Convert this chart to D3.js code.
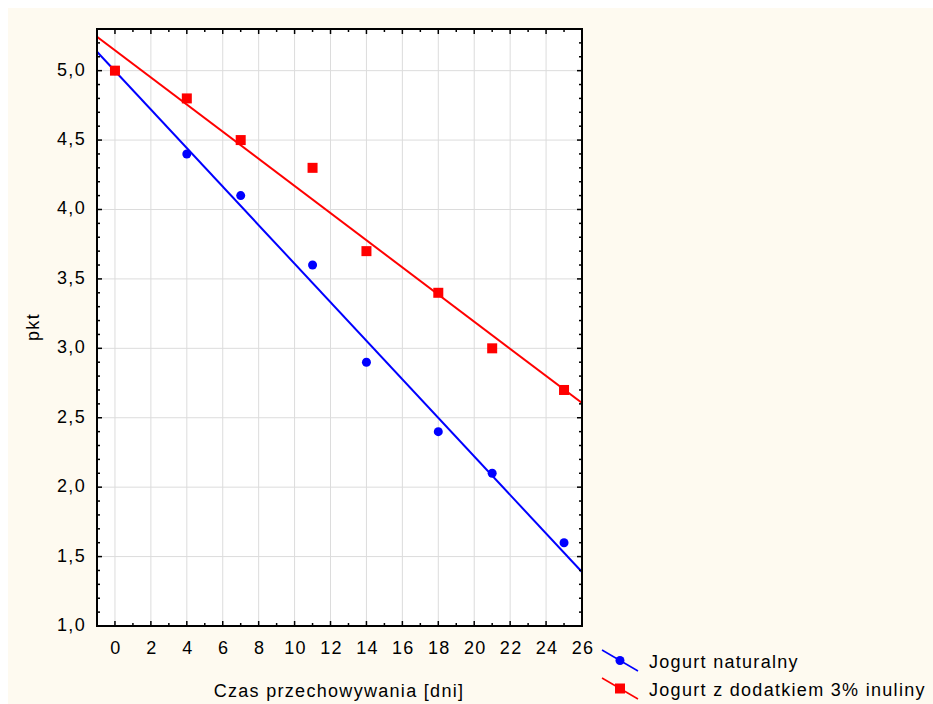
<!DOCTYPE html>
<meta charset="utf-8">
<style>
body{ margin:0; background:#fff; }
svg{ display:block; font-family:"Liberation Sans", Arial, sans-serif; }
text{ letter-spacing:1.3px; }
</style>
<svg width="933" height="704"></svg>
<script src="https://d3js.org/d3.v7.min.js"></script>
<script>

var days = [0, 4, 7, 11, 14, 18, 21, 25];
var natural = [5.0, 4.4, 4.1, 3.6, 2.9, 2.4, 2.1, 1.6];
var inulin = [5.0, 4.8, 4.5, 4.3, 3.7, 3.4, 3.0, 2.7];
var seriesNames = ["Jogurt naturalny", "Jogurt z dodatkiem 3% inuliny"];
var xTicks = d3.range(0, 27, 2);
var yTicks = [1.0, 1.5, 2.0, 2.5, 3.0, 3.5, 4.0, 4.5, 5.0];

var svg = d3.select("svg");

svg.append("rect")
  .attr("x", 8).attr("y", 8)
  .attr("width", 925).attr("height", 696)
  .attr("fill", "#fefaf0");

var pLeft = 97, pRight = 582, pTop = 29, pBottom = 626;

var x = d3.scaleLinear().domain([-1, 26]).range([pLeft, pRight]);
var y = d3.scaleLinear().domain([1, 5.3]).range([pBottom, pTop]);

svg.append("rect")
  .attr("x", pLeft).attr("y", pTop)
  .attr("width", pRight - pLeft).attr("height", pBottom - pTop)
  .attr("fill", "#fff");

// grid
svg.append("g").selectAll("line")
  .data(xTicks.filter(function(d) { return d < 26; }))
  .enter().append("line")
  .attr("x1", function(d) { return x(d); }).attr("x2", function(d) { return x(d); })
  .attr("y1", pTop).attr("y2", pBottom)
  .attr("stroke", "#dcdcdc").attr("stroke-width", 1);

svg.append("g").selectAll("line")
  .data(yTicks.filter(function(d) { return d > 1; }))
  .enter().append("line")
  .attr("x1", pLeft).attr("x2", pRight)
  .attr("y1", function(d) { return y(d); }).attr("y2", function(d) { return y(d); })
  .attr("stroke", "#dcdcdc").attr("stroke-width", 1);

// regression lines
function fit(xs, ys) {
  var mx = d3.mean(xs), my = d3.mean(ys), sxy = 0, sxx = 0;
  xs.forEach(function(v, i) {
    sxy += (v - mx) * (ys[i] - my);
    sxx += (v - mx) * (v - mx);
  });
  var b = sxy / sxx;
  return function(v) { return my + b * (v - mx); };
}

var series = [
  {name: seriesNames[0], values: natural, color: "#0000ff", shape: "circle"},
  {name: seriesNames[1], values: inulin, color: "#ff0000", shape: "square"}
];

svg.append("defs").append("clipPath").attr("id", "plot")
  .append("rect").attr("x", pLeft).attr("y", pTop)
  .attr("width", pRight - pLeft).attr("height", pBottom - pTop);

series.forEach(function(s) {
  var f = fit(days, s.values);
  svg.append("line")
    .attr("clip-path", "url(#plot)")
    .attr("x1", x(-1)).attr("y1", y(f(-1)))
    .attr("x2", x(26)).attr("y2", y(f(26)))
    .attr("stroke", s.color).attr("stroke-width", 2);
});

function drawMarker(g, s, cx, cy) {
  if (s.shape === "circle") {
    g.append("circle").attr("cx", cx).attr("cy", cy).attr("r", 4.5).attr("fill", s.color);
  } else {
    g.append("rect").attr("x", cx - 5).attr("y", cy - 5)
      .attr("width", 10).attr("height", 10).attr("fill", s.color);
  }
}

series.forEach(function(s) {
  var g = svg.append("g");
  s.values.forEach(function(v, i) { drawMarker(g, s, x(days[i]), y(v)); });
});

// frame
svg.append("rect")
  .attr("x", pLeft).attr("y", pTop)
  .attr("width", pRight - pLeft).attr("height", pBottom - pTop)
  .attr("fill", "none").attr("stroke", "#000").attr("stroke-width", 2);

// inward ticks on all four sides
var xt = d3.range(0, 27, 1);
var yt = d3.range(10, 54, 1).map(function(d) { return d / 10; });
var ticks = svg.append("g").attr("stroke", "#000").attr("stroke-width", 1.5);
xt.forEach(function(d) {
  var len = d % 2 === 0 ? 5 : 3;
  ticks.append("line").attr("x1", x(d)).attr("x2", x(d)).attr("y1", pBottom).attr("y2", pBottom - len);
  ticks.append("line").attr("x1", x(d)).attr("x2", x(d)).attr("y1", pTop).attr("y2", pTop + len);
});
yt.forEach(function(d) {
  var len = Math.round(d * 10) % 5 === 0 ? 5 : 3;
  ticks.append("line").attr("x1", pLeft).attr("x2", pLeft + len).attr("y1", y(d)).attr("y2", y(d));
  ticks.append("line").attr("x1", pRight).attr("x2", pRight - len).attr("y1", y(d)).attr("y2", y(d));
});

// tick labels
var fmt = function(d) { return d3.format(".1f")(d).replace(".", ","); };
svg.append("g").selectAll("text")
  .data(yTicks).enter().append("text")
  .attr("x", 86).attr("y", function(d) { return y(d) + 5; })
  .attr("text-anchor", "end").attr("font-size", 18).attr("fill", "#000")
  .text(fmt);

svg.append("g").selectAll("text")
  .data(xTicks).enter().append("text")
  .attr("x", function(d) { return x(d) + 1; }).attr("y", 654)
  .attr("text-anchor", "middle").attr("font-size", 18).attr("fill", "#000")
  .text(function(d) { return d; });

svg.append("text")
  .attr("x", 339).attr("y", 697)
  .attr("text-anchor", "middle").attr("font-size", 18)
  .text("Czas przechowywania [dni]");

svg.append("text")
  .attr("transform", "translate(39,327) rotate(-90)")
  .attr("text-anchor", "middle").attr("font-size", 18)
  .text("pkt");

// legend
series.forEach(function(s, i) {
  var g = svg.append("g").attr("transform", "translate(0," + (i * 28) + ")");
  g.append("line").attr("x1", 602).attr("y1", 650).attr("x2", 638).attr("y2", 671)
    .attr("stroke", s.color).attr("stroke-width", 1.5);
  drawMarker(g, s, 620, 660.5);
  g.append("text").attr("x", 649).attr("y", 667.5).attr("font-size", 18).text(s.name);
});

</script>
